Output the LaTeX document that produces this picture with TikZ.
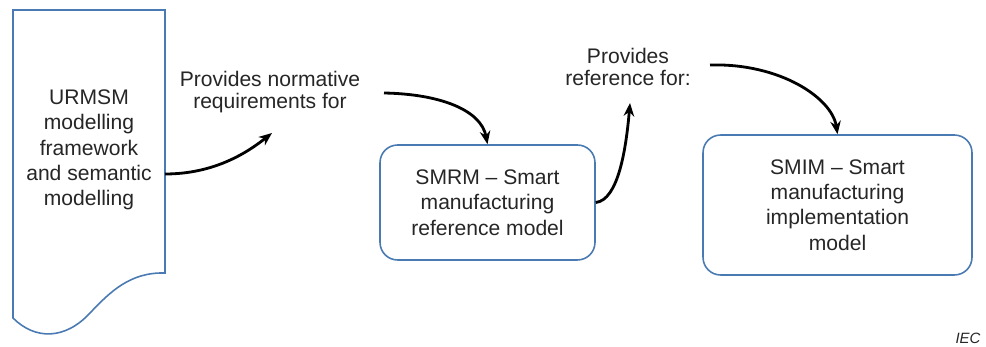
\documentclass[tikz,border=0pt]{standalone}
\usepackage{fontspec}
\setmainfont{Liberation Sans}
\usepackage{xcolor}
\usetikzlibrary{positioning,calc,arrows.meta}
\definecolor{iecblue}{RGB}{74,122,178}
\definecolor{textgray}{RGB}{38,38,38}

\begin{document}
\begin{tikzpicture}[x=0.02cm,y=-0.02cm, text=textgray,
    model/.style={draw=iecblue, line width=0.9pt, rounded corners=10pt, align=center,
      font=\fontsize{12}{14.4}\selectfont, inner sep=0pt},
    lbl/.style={align=center, font=\fontsize{12}{13}\selectfont},
    flow/.style={line width=1.6pt, -{Stealth[length=7.5pt,width=6pt]}}]
    \useasboundingbox (0,0) rectangle (986,347);

    % document shape
    \draw[iecblue, line width=0.9pt, fill=white]
      (13,10) -- (165,10) -- (165,273)
      .. controls (130,272) and (110,292) .. (90,313)
      .. controls (65,340) and (35,340) .. (13,318) -- cycle;
    \node[align=center, font=\fontsize{12}{14.4}\selectfont] (urmsm) at (89,150)
      {URMSM\\modelling\\framework\\and semantic\\modelling};
    \coordinate (urmsmE) at (165,174);

    \node[model, minimum width=4.3cm, minimum height=2.3cm] (smrm) at (487.5,202.5)
      {SMRM -- Smart\\manufacturing\\reference model};
    \node[model, minimum width=5.38cm, minimum height=2.8cm] (smim) at (837.5,205)
      {SMIM -- Smart\\manufacturing\\implementation\\model};

    \node[lbl] (norm) at (270,92) {Provides normative\\requirements for};
    \node[lbl] (ref) at (628,67) {Provides\\reference for:};

    \coordinate (normIn) at (272,133);
    \coordinate (normOut) at (384,93);
    \coordinate (refIn) at (630,103);
    \coordinate (refOut) at (710,65);

    \draw[flow] (urmsmE) .. controls (215,174) and (248,152) .. (normIn);
    \draw[flow] (normOut) .. controls (440,94) and (481,110) .. (smrm.north);
    \draw[flow] (smrm.east) .. controls (618,200) and (626,150) .. (refIn);
    \draw[flow] (refOut) .. controls (780,63) and (832,98) .. (smim.north);

    \node[font=\fontsize{8.5}{10}\selectfont\itshape] (iec) at (968,338) {IEC};
\end{tikzpicture}
\end{document}
